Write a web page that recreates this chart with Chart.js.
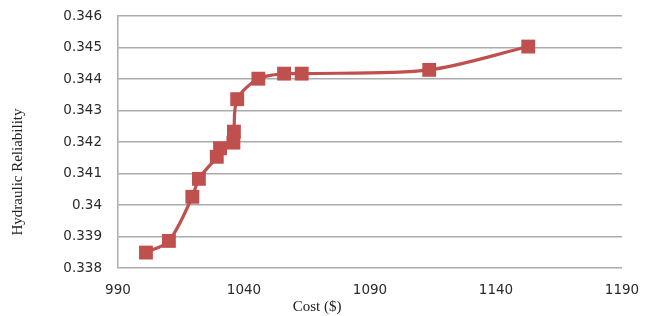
<!DOCTYPE html>
<html>
<head>
<meta charset="utf-8">
<script src="https://cdn.jsdelivr.net/npm/chart.js@4"></script>
<style>
html,body{margin:0;padding:0;background:#fff;}
#wrap{width:646px;height:316px;position:relative;}
</style>
</head>
<body>
<div id="wrap"><canvas id="c" width="646" height="316"></canvas></div>
<script>
const costs = [1001.1, 1010.2, 1019.5, 1022.1, 1029.2, 1030.5, 1035.8, 1036.0, 1037.3, 1045.7, 1055.9, 1062.9, 1113.5, 1152.8];
const reliability = [0.33849, 0.33886, 0.34026, 0.34083, 0.34153, 0.34180, 0.34198, 0.34233, 0.34336, 0.34401, 0.34417, 0.34417, 0.34429, 0.34503];
const xTicks = [990, 1040, 1090, 1140, 1190];
const yTicks = [0.338, 0.339, 0.340, 0.341, 0.342, 0.343, 0.344, 0.345, 0.346];
const xTitle = 'Cost ($)';
const yTitle = 'Hydraulic Reliability';

const points = costs.map((c, i) => ({x: c, y: reliability[i]}));

const titlePlugin = {
  id: 'axisTitles',
  afterDraw(chart) {
    const ctx = chart.ctx;
    ctx.save();
    ctx.fillStyle = '#222';
    ctx.font = '15px "Liberation Serif", serif';
    ctx.textAlign = 'center';
    ctx.textBaseline = 'middle';
    ctx.fillText(xTitle, 317, 307);
    ctx.translate(18, 172);
    ctx.rotate(-Math.PI / 2);
    ctx.font = '15px "Liberation Serif", serif';
    ctx.fillText(yTitle, 0, 0);
    ctx.restore();
  }
};

new Chart(document.getElementById('c'), {
  type: 'line',
  data: {
    datasets: [{
      data: points,
      borderColor: '#C0504D',
      backgroundColor: '#C0504D',
      borderWidth: 3.2,
      pointStyle: 'rect',
      pointRadius: 9.8,
      pointHoverRadius: 9.8,
      pointBorderWidth: 0,
      tension: 0.3,
      fill: false
    }]
  },
  options: {
    responsive: false,
    animation: false,
    events: [],
    layout: {padding: {left: 0, right: 24, top: 16, bottom: 0}},
    plugins: {legend: {display: false}, tooltip: {enabled: false}, title: {display: false}},
    scales: {
      x: {
        type: 'linear',
        min: 990, max: 1190,
        afterBuildTicks(s) { s.ticks = xTicks.map(v => ({value: v})); },
        afterFit(s) { s.height = 48; },
        grid: {display: true, drawOnChartArea: false, drawTicks: true, tickLength: 11, tickColor: 'rgba(0,0,0,0)', color: 'rgba(0,0,0,0)'},
        border: {display: false},
        ticks: {
          padding: 3,
          color: '#2a2a2a',
          font: {family: '"DejaVu Sans", sans-serif', size: 13.5},
          maxRotation: 0,
          callback: v => String(v)
        }
      },
      y: {
        type: 'linear',
        min: 0.338, max: 0.346,
        afterBuildTicks(s) { s.ticks = yTicks.map(v => ({value: v})); },
        afterFit(s) { s.width = 118; },
        grid: {color: '#ABABAB', lineWidth: 1.5, drawTicks: true, tickLength: 13, tickColor: 'rgba(0,0,0,0)'},
        border: {display: true, color: '#ABABAB', width: 1.5},
        ticks: {
          padding: 3,
          color: '#2a2a2a',
          font: {family: '"DejaVu Sans", sans-serif', size: 13.5},
          callback: v => String(parseFloat(v.toFixed(3)))
        }
      }
    }
  },
  plugins: [titlePlugin]
});
</script>
</body>
</html>
